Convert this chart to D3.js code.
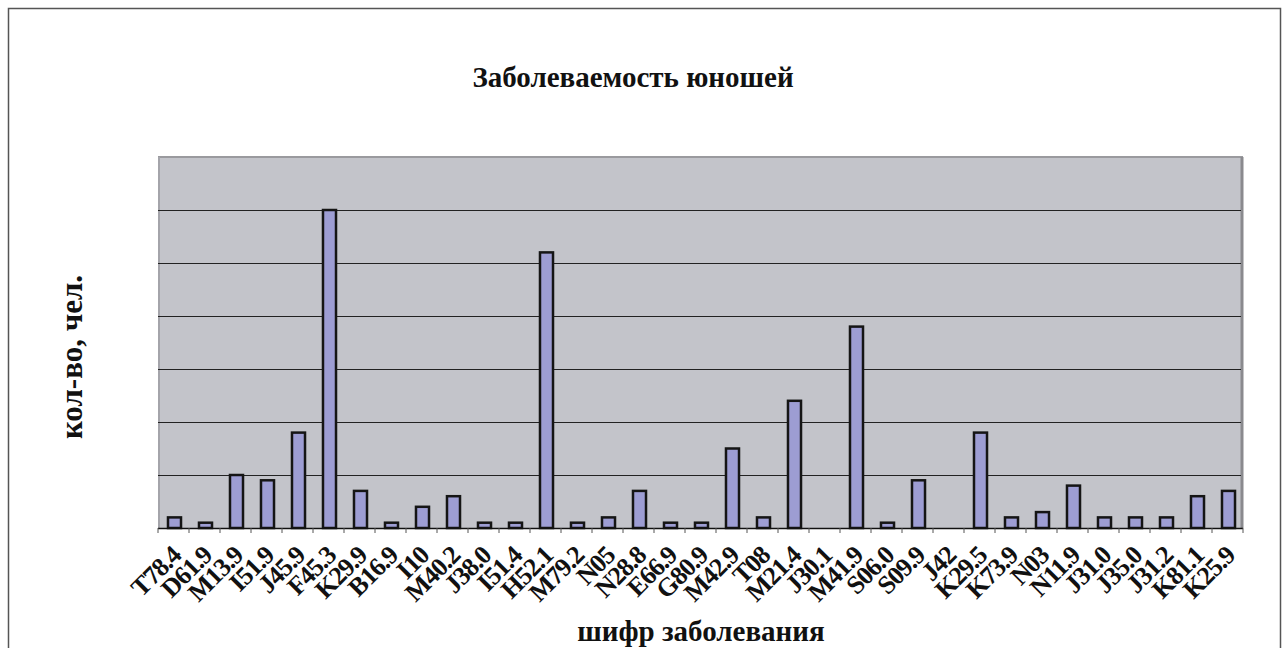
<!DOCTYPE html>
<html><head><meta charset="utf-8">
<script src="https://cdn.jsdelivr.net/npm/d3@7"></script>
<style>html,body{margin:0;padding:0;background:#fff;}svg{display:block;}</style>
</head><body>
<svg id="chart" width="1284" height="648"></svg>
<script>
const categories = ["T78.4","D61.9","M13.9","I51.9","J45.9","F45.3","K29.9","B16.9","I10","M40.2","J38.0","I51.4","H52.1","M79.2","N05","N28.8","E66.9","G80.9","M42.9","T08","M21.4","J30.1","M41.9","S06.0","S09.9","J42","K29.5","K73.9","N03","N11.9","J31.0","J35.0","J31.2","K81.1","K25.9"];
const values = [2,1,10,9,18,60,7,1,4,6,1,1,52,1,2,7,1,1,15,2,24,0,38,1,9,0,18,2,3,8,2,2,2,6,7];
const yTicks = [0,10,20,30,40,50,60,70];
const title = "Заболеваемость юношей";
const xTitle = "шифр заболевания";
const yTitle = "кол-во, чел.";

const svg = d3.select("#chart");
const font = "'Liberation Serif','Times New Roman',serif";
const m = {left:158, right:1243, top:157, bottom:528};

// outer frame
svg.append("rect").attr("x",8.5).attr("y",8.5).attr("width",1272).attr("height",700)
  .attr("fill","none").attr("stroke","#555").attr("stroke-width",1.5);

const x = d3.scaleBand().domain(categories).range([m.left,m.right]).paddingInner(0.58).paddingOuter(0.29);
const y = d3.scaleLinear().domain([0,70]).range([m.bottom,m.top]);

// plot area background
svg.append("rect").attr("x",m.left).attr("y",m.top).attr("width",m.right-m.left).attr("height",m.bottom-m.top)
  .attr("fill","#c3c4ca");
// plot edges
svg.append("line").attr("x1",m.left).attr("x2",m.right).attr("y1",m.top).attr("y2",m.top)
  .attr("stroke","#9a9a9e").attr("stroke-width",2);
svg.append("line").attr("x1",m.left+1).attr("x2",m.left+1).attr("y1",m.top).attr("y2",m.bottom)
  .attr("stroke","#a4a4aa").attr("stroke-width",2);
svg.append("line").attr("x1",m.right-1).attr("x2",m.right-1).attr("y1",m.top).attr("y2",m.bottom)
  .attr("stroke","#8a8a8e").attr("stroke-width",3);

// gridlines
svg.append("g").selectAll("line").data(yTicks.filter(d=>d>0 && d<70)).join("line")
  .attr("x1",m.left).attr("x2",m.right-2).attr("y1",d=>Math.round(y(d))+0.5).attr("y2",d=>Math.round(y(d))+0.5)
  .attr("stroke","#222").attr("stroke-width",1.2);

// bars
svg.append("g").selectAll("rect").data(categories).join("rect")
  .attr("x",(d)=>x(d)+1)
  .attr("y",(d,i)=>y(values[i]))
  .attr("width",x.bandwidth())
  .attr("height",(d,i)=>y(0)-y(values[i]))
  .attr("fill","#9d9dd3").attr("stroke","#151515").attr("stroke-width",2.5)
  .attr("display",(d,i)=>values[i]>0?null:"none");

// x axis line + ticks
const step = x.step();
svg.append("line").attr("x1",m.left).attr("x2",m.right).attr("y1",m.bottom+0.5).attr("y2",m.bottom+0.5)
  .attr("stroke","#111").attr("stroke-width",1.6);
const tickPos = categories.map(c=>x(c)-step*x.paddingInner()/2).concat([m.right]);
svg.append("g").selectAll("line").data(tickPos).join("line")
  .attr("x1",d=>d).attr("x2",d=>d).attr("y1",m.bottom).attr("y2",m.bottom+5)
  .attr("stroke","#555").attr("stroke-width",1);

// tick labels
svg.append("g").selectAll("text").data(categories).join("text")
  .attr("transform",d=>`translate(${x(d)+x.bandwidth()/2+9},${m.bottom+29}) rotate(-45)`)
  .attr("text-anchor","end")
  .attr("font-family",font).attr("font-weight","bold").attr("font-size",26)
  .attr("letter-spacing",-1)
  .attr("fill","#111")
  .text(d=>d);

// titles
svg.append("text").attr("x",633).attr("y",87).attr("text-anchor","middle")
  .attr("font-family",font).attr("font-weight","bold").attr("font-size",29).attr("fill","#111").text(title);
svg.append("text").attr("x",701).attr("y",641).attr("text-anchor","middle")
  .attr("font-family",font).attr("font-weight","bold").attr("font-size",29).attr("fill","#111").text(xTitle);
svg.append("text").attr("transform","translate(82,357) rotate(-90)").attr("text-anchor","middle")
  .attr("font-family",font).attr("font-weight","bold").attr("font-size",31).attr("fill","#111").text(yTitle);
</script>
</body></html>
